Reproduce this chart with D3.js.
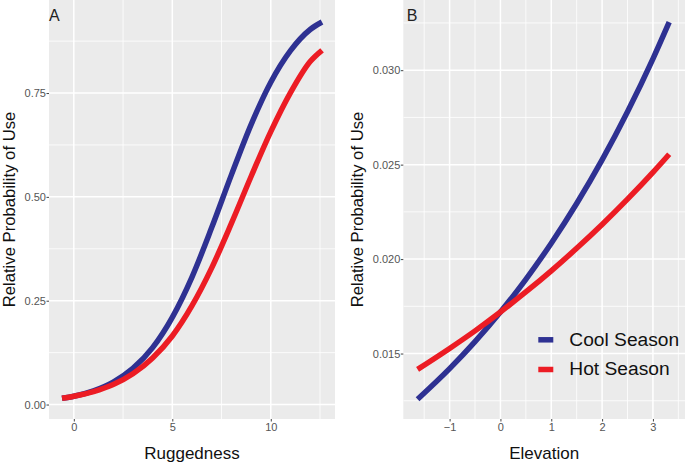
<!DOCTYPE html>
<html>
<head>
<meta charset="utf-8">
<script src="https://cdn.jsdelivr.net/npm/d3@7"></script>
<style>
  html, body { margin: 0; padding: 0; background: #ffffff; }
  svg { display: block; font-family: "Liberation Sans", Arial, Helvetica, sans-serif; }
</style>
</head>
<body>
<svg id="chart" width="685" height="465"></svg>
<script>
// ---- data ----
const ruggedX    = [-0.6, 0, 1, 2, 3, 4, 5, 6, 7, 8, 9, 10, 11, 12, 12.6];
const ruggedCool = [0.015, 0.020, 0.033, 0.054, 0.087, 0.137, 0.210, 0.307, 0.426, 0.553, 0.674, 0.776, 0.852, 0.903, 0.921];
const ruggedHot  = [0.015, 0.020, 0.031, 0.048, 0.074, 0.112, 0.165, 0.238, 0.329, 0.436, 0.549, 0.657, 0.751, 0.826, 0.853];

const elevX    = [-1.63, -1, -0.5, 0, 0.5, 1, 1.5, 2, 2.5, 3, 3.32];
const elevCool = [0.01258, 0.01420, 0.01563, 0.01720, 0.01893, 0.02084, 0.02294, 0.02525, 0.02780, 0.03060, 0.03254];
const elevHot  = [0.01416, 0.01527, 0.01620, 0.01720, 0.01826, 0.01938, 0.02057, 0.02183, 0.02317, 0.02459, 0.02555];

const ruggedXTicks = [0, 5, 10];
const ruggedXMinor = [2.5, 7.5, 12.5];
const ruggedYTicks = [0, 0.25, 0.5, 0.75];
const ruggedYMinor = [0.125, 0.375, 0.625, 0.875];
const ruggedYLabels = ["0.00", "0.25", "0.50", "0.75"];

const elevXTicks = [-1, 0, 1, 2, 3];
const elevXMinor = [-1.5, -0.5, 0.5, 1.5, 2.5, 3.5];
const elevXLabels = ["\u22121", "0", "1", "2", "3"];
const elevYTicks = [0.015, 0.020, 0.025, 0.030];
const elevYMinor = [0.0125, 0.0175, 0.0225, 0.0275, 0.0325];
const elevYLabels = ["0.015", "0.020", "0.025", "0.030"];

const seriesNames = ["Cool Season", "Hot Season"];
const seriesColors = ["#2e3192", "#ec1c24"];

// ---- drawing ----
const svg = d3.select("#chart");

function panel(opt) {
  const g = svg.append("g");
  const x = d3.scaleLinear().domain(opt.xDom).range([opt.left, opt.right]);
  const y = d3.scaleLinear().domain(opt.yDom).range([opt.bottom, opt.top]);

  g.append("rect")
    .attr("x", opt.left).attr("y", opt.top)
    .attr("width", opt.right - opt.left).attr("height", opt.bottom - opt.top)
    .attr("fill", "#ebebeb");

  const clipId = "clip" + opt.id;
  svg.append("clipPath").attr("id", clipId).append("rect")
    .attr("x", opt.left).attr("y", opt.top)
    .attr("width", opt.right - opt.left).attr("height", opt.bottom - opt.top);

  const grid = g.append("g").attr("clip-path", `url(#${clipId})`);
  grid.selectAll(".vmin").data(opt.xMinor).join("line")
    .attr("x1", d => x(d)).attr("x2", d => x(d))
    .attr("y1", opt.top).attr("y2", opt.bottom)
    .attr("stroke", "#ffffff").attr("stroke-width", 0.8);
  grid.selectAll(".hmin").data(opt.yMinor).join("line")
    .attr("y1", d => y(d)).attr("y2", d => y(d))
    .attr("x1", opt.left).attr("x2", opt.right)
    .attr("stroke", "#ffffff").attr("stroke-width", 0.8);
  grid.selectAll(".vmaj").data(opt.xTicks).join("line")
    .attr("x1", d => x(d)).attr("x2", d => x(d))
    .attr("y1", opt.top).attr("y2", opt.bottom)
    .attr("stroke", "#ffffff").attr("stroke-width", 1.5);
  grid.selectAll(".hmaj").data(opt.yTicks).join("line")
    .attr("y1", d => y(d)).attr("y2", d => y(d))
    .attr("x1", opt.left).attr("x2", opt.right)
    .attr("stroke", "#ffffff").attr("stroke-width", 1.5);

  const line = d3.line().x(d => x(d[0])).y(d => y(d[1])).curve(d3.curveMonotoneX);
  opt.series.forEach((s, i) => {
    const pts = opt.xs.map((v, j) => [v, s[j]]);
    grid.append("path").datum(pts)
      .attr("d", line)
      .attr("fill", "none")
      .attr("stroke", seriesColors[i])
      .attr("stroke-width", 5.5)
      .attr("stroke-linecap", "butt")
      .attr("stroke-linejoin", "round");
  });

  // axes
  const xAxis = d3.axisBottom(x).tickValues(opt.xTicks)
    .tickFormat((d, i) => opt.xLabels[i]).tickSize(2.5).tickPadding(1.4);
  const gx = g.append("g").attr("transform", `translate(0,${opt.bottom})`).call(xAxis);
  gx.select(".domain").remove();
  gx.selectAll("line").attr("stroke", "#444").attr("stroke-width", 1);
  gx.selectAll("text").attr("fill", "#555").attr("font-size", 11)
    .attr("font-family", "Liberation Sans, Arial, sans-serif");

  const yAxis = d3.axisLeft(y).tickValues(opt.yTicks)
    .tickFormat((d, i) => opt.yLabels[i]).tickSize(2.5).tickPadding(0.5);
  const gy = g.append("g").attr("transform", `translate(${opt.left},0)`).call(yAxis);
  gy.select(".domain").remove();
  gy.selectAll("line").attr("stroke", "#444").attr("stroke-width", 1);
  gy.selectAll("text").attr("fill", "#555").attr("font-size", 11)
    .attr("font-family", "Liberation Sans, Arial, sans-serif");

  // titles
  g.append("text")
    .attr("x", (opt.left + opt.right) / 2).attr("y", 459)
    .attr("text-anchor", "middle").attr("font-size", 17).attr("fill", "#111")
    .text(opt.xTitle);
  g.append("text")
    .attr("transform", `translate(${opt.yTitleX},${(opt.top + opt.bottom) / 2}) rotate(-90)`)
    .attr("text-anchor", "middle").attr("font-size", 16.7).attr("fill", "#111")
    .text("Relative Probability of Use");
  g.append("text")
    .attr("x", opt.tagX).attr("y", 20.6)
    .attr("font-size", 16).attr("fill", "#222")
    .text(opt.tag);
  return { g, x, y };
}

panel({
  id: "A", left: 49, right: 335, top: 0, bottom: 419,
  xDom: [-1.26, 13.26], yDom: [-0.0348, 0.974],
  xTicks: ruggedXTicks, xMinor: ruggedXMinor, xLabels: ruggedXTicks.map(String),
  yTicks: ruggedYTicks, yMinor: ruggedYMinor, yLabels: ruggedYLabels,
  xs: ruggedX, series: [ruggedCool, ruggedHot],
  xTitle: "Ruggedness", yTitleX: 14.5, tag: "A", tagX: 49
});

const pB = panel({
  id: "B", left: 403.3, right: 685, top: 0, bottom: 419,
  xDom: [-1.911, 3.631], yDom: [0.011535, 0.033715],
  xTicks: elevXTicks, xMinor: elevXMinor, xLabels: elevXLabels,
  yTicks: elevYTicks, yMinor: elevYMinor, yLabels: elevYLabels,
  xs: elevX, series: [elevCool, elevHot],
  xTitle: "Elevation", yTitleX: 362.5, tag: "B", tagX: 406.7
});

// legend
const legendY = [339.8, 369.5];
const leg = svg.append("g");
seriesNames.forEach((name, i) => {
  leg.append("line")
    .attr("x1", 538.3).attr("x2", 553.3)
    .attr("y1", legendY[i]).attr("y2", legendY[i])
    .attr("stroke", seriesColors[i]).attr("stroke-width", 5.5);
  leg.append("text")
    .attr("x", 569.3).attr("y", legendY[i] + 5.8)
    .attr("font-size", 19.2).attr("fill", "#111")
    .text(name);
});
</script>
</body>
</html>
